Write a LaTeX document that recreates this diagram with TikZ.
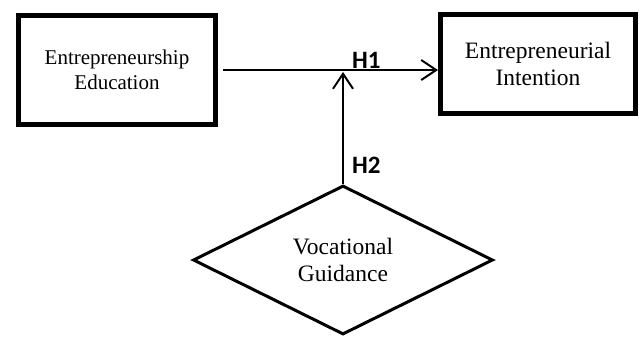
\documentclass[tikz,border=0pt]{standalone}
\usepackage{fontspec}
\setmainfont{Liberation Serif}
\newfontfamily\hypfont{Carlito}
\usetikzlibrary{arrows.meta,positioning,shapes.geometric}
\tikzset{
  varbox/.style={draw, line width=5pt, align=center, inner sep=2pt,
                 font=\fontsize{21}{25}\selectfont},
  modbox/.style={draw, diamond, shape aspect=2, line width=3pt, align=center,
                 inner sep=0pt, minimum width=300pt, minimum height=149pt,
                 font=\fontsize{23.5}{27}\selectfont},
  hyp/.style={font=\hypfont\bfseries\fontsize{25}{25}\selectfont,
              inner sep=0pt, anchor=base west},
  flow/.style={-{Straight Barb[length=15pt,width=20pt]}, line width=2pt},
}

\begin{document}
\begin{tikzpicture}[x=1pt, y=-1pt]
  \useasboundingbox (0,0) rectangle (640,338);
  \node[varbox, minimum width=197pt, minimum height=109pt] (edu) at (117,70)
    {Entrepreneurship\\Education};
  \node[varbox, minimum width=195pt, minimum height=99pt,
        font=\fontsize{23.5}{27}\selectfont] (intent) at (538,64)
    {Entrepreneurial\\Intention};
  \node[modbox] (guide) at (343,260) {Vocational\\Guidance};
  \coordinate (meet) at (guide.north |- edu.east);

  \draw[flow, shorten <=5pt] (edu.east) -- (edu.east -| intent.west);
  \draw[flow, shorten >=2pt] (guide.north) -- (meet);
  \node[hyp] (h1) at (352,68) {H1};
  \node[hyp] (h2) at (352,173) {H2};
\end{tikzpicture}
\end{document}
